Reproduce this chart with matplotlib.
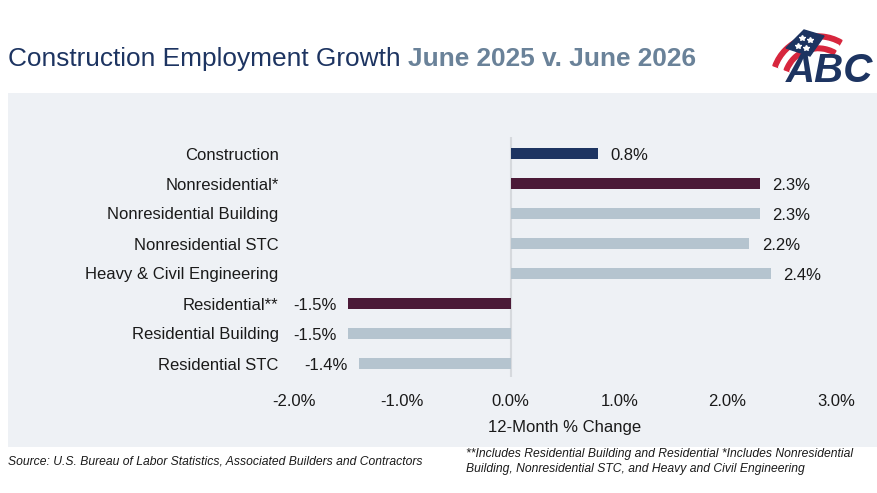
import matplotlib
matplotlib.use('Agg')
import matplotlib.pyplot as plt
from matplotlib.patches import Wedge, Polygon

plt.rcParams['font.family'] = ['Liberation Sans', 'DejaVu Sans']

categories = ['Construction', 'Nonresidential*', 'Nonresidential Building',
              'Nonresidential STC', 'Heavy & Civil Engineering',
              'Residential**', 'Residential Building', 'Residential STC']
values = [0.8, 2.3, 2.3, 2.2, 2.4, -1.5, -1.5, -1.4]
groups = ['total', 'sector', 'sub', 'sub', 'sub', 'sector', 'sub', 'sub']
xticks = [-2, -1, 0, 1, 2, 3]

navy = '#1d3461'
maroon = '#4b1a37'
gray = '#b5c4cf'
panel = '#eef1f5'
group_colors = {'total': navy, 'sector': maroon, 'sub': gray}

W, H = 877, 493
fig = plt.figure(figsize=(W / 100, H / 100), dpi=100)

# light panel behind chart
bg = fig.add_axes([8 / W, 1 - 447 / H, 1 - 8 / W, (447 - 93) / H], zorder=-1)
bg.set_facecolor(panel)
bg.set_xticks([])
bg.set_yticks([])
for s in bg.spines.values():
    s.set_visible(False)

ax = fig.add_axes([294 / W, 116 / H, 542 / W, 240 / H])
ax.set_facecolor('none')
ypos = list(range(len(categories)))
ax.barh(ypos, values, height=0.34, color=[group_colors[g] for g in groups], zorder=2)
ax.axvline(0, color='#d6d9dd', lw=1.5, zorder=1)
ax.set_xlim(-2, 3)
ax.set_ylim(7.45, -0.55)
ax.set_yticks(ypos)
ax.set_yticklabels(categories, fontsize=12, color='#1a1a1a')
ax.set_xticks(xticks)
ax.set_xticklabels(['%.1f%%' % t for t in xticks], fontsize=12, color='#1a1a1a')
ax.tick_params(axis='y', length=0, pad=11)
ax.tick_params(axis='x', length=0, pad=12)
for s in ax.spines.values():
    s.set_visible(False)
ax.set_xlabel('12-Month % Change', fontsize=12, color='#1a1a1a', labelpad=8)

for y, v in zip(ypos, values):
    if v >= 0:
        ax.annotate('%.1f%%' % v, (v, y), xytext=(9, -1.5), textcoords='offset points',
                    ha='left', va='center', fontsize=12, color='#1a1a1a')
    else:
        ax.annotate('%.1f%%' % v, (v, y), xytext=(-8, -1.5), textcoords='offset points',
                    ha='right', va='center', fontsize=12, color='#1a1a1a')

# title
t1 = fig.text(8 / W, 1 - 59 / H, 'Construction Employment Growth ', fontsize=18.9,
              color='#1d3461', va='center', ha='left')
fig.canvas.draw()
bb = t1.get_window_extent()
fig.text(bb.x1 / W, 1 - 59 / H, 'June 2025 v. June 2026', fontsize=18.9,
         color='#6a8299', fontweight='bold', va='center', ha='left')

# footer
fig.text(8 / W, 1 - 461 / H, 'Source: U.S. Bureau of Labor Statistics, Associated Builders and Contractors',
         fontsize=8.75, style='italic', color='#1a1a1a', va='center')
fig.text(466 / W, 1 - 448 / H,
         '**Includes Residential Building and Residential *Includes Nonresidential\n'
         'Building, Nonresidential STC, and Heavy and Civil Engineering',
         fontsize=8.7, style='italic', color='#1a1a1a', va='top', linespacing=1.3)

# simple ABC logo
lax = fig.add_axes([762 / W, 1 - 90 / H, 115 / W, 64 / H])
lax.set_xlim(0, 115)
lax.set_ylim(64, 0)
lax.axis('off')
for r, c in [(48, '#d7263d'), (42, 'white'), (36, '#d7263d'), (30, 'white')]:
    lax.add_patch(Wedge((56, 56), r, 200, 300, width=6, color=c))
lax.add_patch(Polygon([[24, 22], [42, 4], [62, 10], [48, 30]], color='#1d3461'))
for sx, sy in [(40, 12), (48, 14), (36, 20), (44, 22)]:
    lax.plot(sx, sy, marker='*', color='white', ms=4)
lax.text(68, 45, 'ABC', fontsize=29, fontweight='bold', color='#1d3461',
         ha='center', va='center', style='italic')

fig.savefig('out.png', dpi=100)
